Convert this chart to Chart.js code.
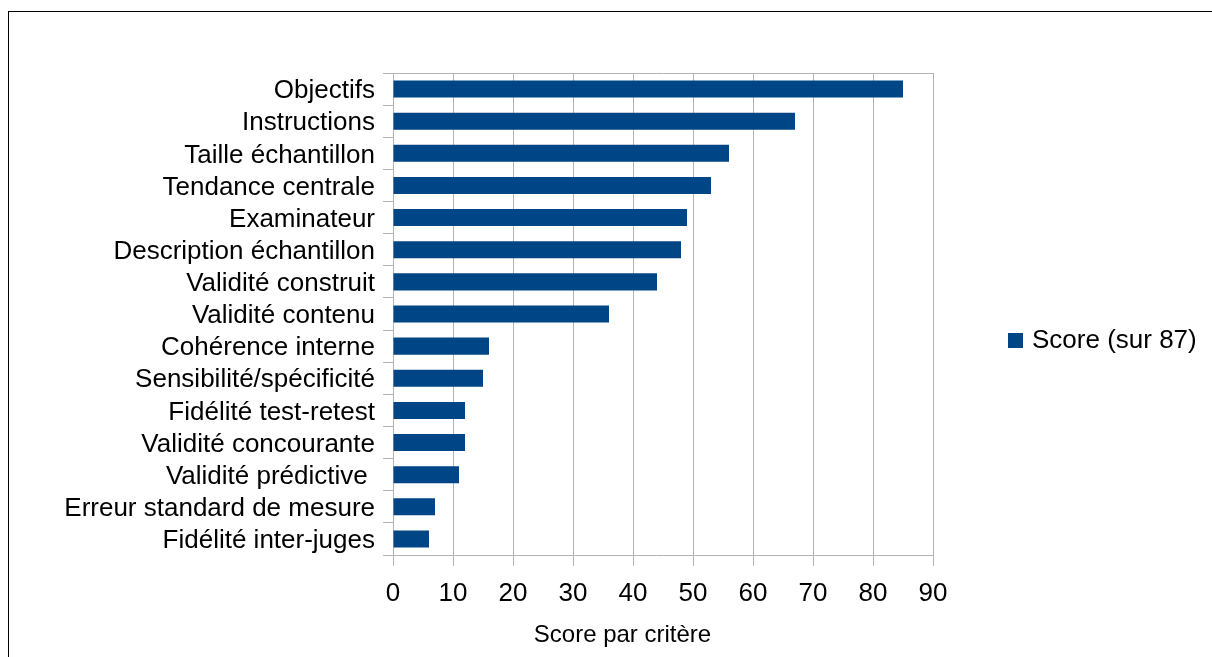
<!DOCTYPE html>
<html lang="fr">
<head>
<meta charset="utf-8">
<title>Score par critère</title>
<script src="https://cdn.jsdelivr.net/npm/chart.js@4/dist/chart.umd.min.js"></script>
<style>
  html, body { margin: 0; padding: 0; background: #fff; overflow: hidden; }
  #frame { position: absolute; left: 8px; top: 11px; width: 1300px; height: 800px; border: 1px solid #000; }
  #wrap { position: absolute; left: 0; top: 0; width: 1212px; height: 657px; }
</style>
</head>
<body>
<div id="frame"></div>
<div id="wrap"><canvas id="scoreChart"></canvas></div>
<script>
// Critères évalués et score obtenu (sur 87)
const criteres = [
  "Objectifs", "Instructions", "Taille échantillon", "Tendance centrale",
  "Examinateur", "Description échantillon", "Validité construit", "Validité contenu",
  "Cohérence interne", "Sensibilité/spécificité", "Fidélité test-retest",
  "Validité concourante", "Validité prédictive ", "Erreur standard de mesure",
  "Fidélité inter-juges"
];
const scores = [85, 67, 56, 53, 49, 48, 44, 36, 16, 15, 12, 12, 11, 7, 6];
const serieLabel = "Score (sur 87)";
const axeTitre = "Score par critère";
const xMin = 0, xMax = 90, xStep = 10;

const BLUE = "#004586";
const GRID = "#b3b3b3";
const FONT = "'Liberation Sans', Arial, sans-serif";

Chart.defaults.font.family = FONT;
Chart.defaults.color = "#000";

// legend + axis title drawn by hand (LibreOffice-style placement)
const extras = {
  id: "extras",
  afterDraw(chart) {
    const { ctx, chartArea } = chart;
    const ds = chart.data.datasets[0];
    const midY = (chartArea.top + chartArea.bottom) / 2 + 26;
    const lx = chartArea.right + 75;
    ctx.save();
    ctx.fillStyle = ds.backgroundColor;
    ctx.fillRect(lx, midY - 7, 15, 15);
    ctx.fillStyle = "#000";
    ctx.font = "26px " + FONT;
    ctx.textAlign = "left";
    ctx.textBaseline = "middle";
    ctx.fillText(ds.label, lx + 24, midY + 1);

    ctx.font = "24px " + FONT;
    ctx.textAlign = "center";
    ctx.textBaseline = "alphabetic";
    ctx.fillText(axeTitre, chartArea.left + (chartArea.right - chartArea.left) * 0.425, chartArea.bottom + 87);
    ctx.restore();
  }
};

new Chart(document.getElementById("scoreChart"), {
  type: "bar",
  data: {
    labels: criteres,
    datasets: [{
      label: serieLabel,
      data: scores,
      backgroundColor: BLUE,
      barPercentage: 0.53,
      categoryPercentage: 1
    }]
  },
  options: {
    indexAxis: "y",
    responsive: true,
    maintainAspectRatio: false,
    animation: false,
    layout: { padding: { top: 73, right: 279, left: 0, bottom: 0 } },
    plugins: {
      legend: { display: false },
      tooltip: { enabled: false }
    },
    scales: {
      x: {
        min: xMin, max: xMax,
        ticks: { stepSize: xStep, font: { size: 26 }, padding: 12, color: "#000" },
        grid: { color: GRID, tickLength: 11, tickColor: GRID },
        border: { color: GRID },
        afterFit: s => { s.height = 102; }
      },
      // top frame line only
      xTop: {
        position: "top",
        min: xMin, max: xMax,
        ticks: { display: false },
        grid: { display: false },
        border: { color: GRID },
        afterFit: s => { s.height = 0; }
      },
      y: {
        grid: { drawOnChartArea: false, offset: true, tickLength: 10, color: GRID },
        border: { color: GRID },
        ticks: { font: { size: 26 }, padding: 8, color: "#000", autoSkip: false, labelOffset: 2 },
        afterFit: s => { s.width = 393; }
      }
    }
  },
  plugins: [extras]
});
</script>
</body>
</html>
